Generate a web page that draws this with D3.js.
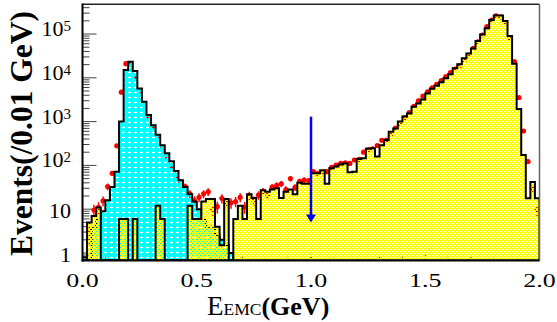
<!DOCTYPE html>
<html>
<head>
<meta charset="utf-8">
<script src="https://cdn.jsdelivr.net/npm/d3@7"></script>
<style>
  body { margin: 0; background: #fff; }
  svg { display: block; }
</style>
</head>
<body>
<svg id="chart"></svg>
<script>
// bins are 0.02 GeV wide, starting at 0
const binWidth = 0.02;

// cyan component (low energy peak), bins 0..33
const cyanCounts = [
  0.8, 0, 4, 6, 9, 16, 32, 72, 1000, 15000,
  23300, 14300, 5700, 2840, 1410, 830, 500, 290, 190, 125,
  75, 46, 32, 22, 15, 10, 6, 4, 4, 2.5,
  2, 1.5, 1, 0
];

// yellow component, bins 0..99
const yellowCounts = [
  0, 5, 7, 11, 0, 0, 0, 0, 6, 6,
  0, 6, 0, 0, 0, 0, 12, 6, 0, 0,
  0, 0, 0, 12, 6, 6, 15, 17, 17, 4,
  1.5, 17, 0, 6, 12, 6, 22, 18, 6, 27,
  25, 28, 30, 18, 25, 28, 22, 40, 38, 38,
  66, 66, 78, 38, 86, 95, 105, 110, 70, 72,
  140, 145, 240, 245, 160, 290, 380, 590, 700, 1000,
  1300, 1540, 2170, 2600, 3200, 4400, 5600, 6600, 7900, 9800,
  12000, 16500, 20300, 28000, 36000, 47000, 69000, 97000, 135000, 210000,
  263000, 263000, 198000, 90000, 21000, 1950, 172, 17.7, 42, 17.7
];

// data points, bins 0..99
const dataCounts = [
  0, 3.2, 9.6, 11, 15.6, 33, 66, 280, 4700, 21000,
  20800, 10600, 5000, 2400, 1300, 690, 420, 240, 140, 97,
  58, 41, 33, 22.5, 15.8, 18.7, 22.5, 25, 10, 11.4,
  17.7, 14, 14, 15, 18.7, 11.2, 20.5, 15.6, 21, 25.5,
  21, 31.8, 35, 38, 28, 50, 31.5, 43, 46, 45,
  72, 66, 69, 72, 90, 102, 111, 115, 111, 133,
  138, 200, 230, 240, 285, 375, 380, 530, 710, 915,
  1240, 1610, 2220, 2980, 3800, 4780, 5900, 7100, 8600, 10600,
  13100, 15800, 18800, 25300, 33000, 47000, 66000, 95000, 147000, 209000,
  260000, 245000, 178000, 80000, 23300, 3550, 610, 122, 30, 9.6
];

const xTicks = [0, 0.5, 1.0, 1.5, 2.0];
const xTickLabels = ['0.0', '0.5', '1.0', '1.5', '2.0'];
const yTicks = [1, 10, 100, 1000, 10000, 100000];
const yTickExp = [null, null, 2, 3, 4, 5];

const arrowX = 1.0;
const arrowTop = 1300;
const arrowBottom = 5;

const width = 557;
const height = 322;
const margin = { top: 4.3, right: 17.5, bottom: 61.5, left: 82.5 };
const yMin = 0.674, yMax = 4.77e5;
const serif = '"Liberation Serif", "DejaVu Serif", serif';

const x = d3.scaleLinear()
    .domain([0, 2])
    .range([margin.left, width - margin.right]);

const y = d3.scaleLog()
    .domain([yMin, yMax])
    .range([height - margin.bottom, margin.top]);

const svg = d3.select('#chart')
    .attr('width', width)
    .attr('height', height);

const defs = svg.append('defs');

defs.append('clipPath').attr('id', 'plot-clip')
    .append('rect')
    .attr('x', margin.left).attr('y', margin.top)
    .attr('width', width - margin.right - margin.left)
    .attr('height', height - margin.bottom - margin.top);

// cyan fill with little star-shaped holes
const cyanPat = defs.append('pattern').attr('id', 'cyan-fill')
    .attr('patternUnits', 'userSpaceOnUse')
    .attr('width', 6).attr('height', 5);
cyanPat.append('path')
    .attr('d', 'M0,0H6V5H0Z M3,1H4V2H5V3H4V4H3V3H2V2H3Z')
    .attr('fill', '#00ffff')
    .attr('fill-rule', 'evenodd');

// yellow fill with small staggered dash holes
const yellowPat = defs.append('pattern').attr('id', 'yellow-fill')
    .attr('patternUnits', 'userSpaceOnUse')
    .attr('width', 4).attr('height', 4);
yellowPat.append('path')
    .attr('d', 'M0,0H4V4H0Z M0,3H2V4H0Z M2,1H4V2H2Z')
    .attr('fill', '#ffff00')
    .attr('fill-rule', 'evenodd');

const bottomY = y.range()[0];
const yv = v => (v > yMin ? y(v) : bottomY);

function stairs(counts) {
    let p = `M${x(0)},${bottomY}`;
    counts.forEach((c, i) => {
        const x0 = x(i * binWidth), x1 = x((i + 1) * binWidth);
        p += `L${x0},${yv(c)}L${x1},${yv(c)}`;
    });
    p += `L${x(counts.length * binWidth)},${bottomY}`;
    return p;
}

// ticks (drawn first, the fills sit over them)
const yMinor = [];
for (let e = -1; e <= 5; e++) {
    for (let m = 2; m <= 9; m++) {
        const v = m * Math.pow(10, e);
        if (v > yMin && v < yMax) yMinor.push(v);
    }
}
const ticks = svg.append('g').attr('stroke', '#444').attr('stroke-width', 1);
ticks.selectAll('.ymaj').data(yTicks).enter().append('line')
    .attr('x1', margin.left).attr('x2', margin.left + 14)
    .attr('y1', d => y(d)).attr('y2', d => y(d));
ticks.selectAll('.ymin').data(yMinor).enter().append('line')
    .attr('x1', margin.left).attr('x2', margin.left + 7)
    .attr('y1', d => y(d)).attr('y2', d => y(d));
ticks.selectAll('.xmaj').data(xTicks).enter().append('line')
    .attr('x1', d => x(d)).attr('x2', d => x(d))
    .attr('y1', bottomY).attr('y2', bottomY - 7);
ticks.selectAll('.xmin').data(d3.range(0, 2.001, 0.1)).enter().append('line')
    .attr('x1', d => x(d)).attr('x2', d => x(d))
    .attr('y1', bottomY).attr('y2', bottomY - 3.5);

const plot = svg.append('g').attr('clip-path', 'url(#plot-clip)');

// data points under the histograms
const pts = dataCounts
    .map((c, i) => ({ c, xc: (i + 0.5) * binWidth }))
    .filter(d => d.c > 0);

plot.append('g').selectAll('line').data(pts).enter().append('line')
    .attr('x1', d => x(d.xc)).attr('x2', d => x(d.xc))
    .attr('y1', d => y(d.c + Math.sqrt(d.c)))
    .attr('y2', d => yv(d.c - Math.sqrt(d.c)))
    .attr('stroke', '#ff0000')
    .attr('stroke-width', 1.5);

plot.append('g').selectAll('circle').data(pts).enter().append('circle')
    .attr('cx', d => x(d.xc))
    .attr('cy', d => y(d.c))
    .attr('r', 2.6)
    .attr('fill', '#ff0000');

// cyan histogram
plot.append('path')
    .attr('d', stairs(cyanCounts) + 'Z')
    .attr('fill', 'url(#cyan-fill)')
    .attr('stroke', '#000')
    .attr('stroke-width', 2)
    .attr('stroke-linejoin', 'miter');

// yellow histogram
plot.append('path')
    .attr('d', stairs(yellowCounts) + 'Z')
    .attr('fill', 'url(#yellow-fill)')
    .attr('stroke', '#000')
    .attr('stroke-width', 2)
    .attr('stroke-linejoin', 'miter');

// arrow at the cut
const ax = x(arrowX);
svg.append('line')
    .attr('x1', ax).attr('x2', ax)
    .attr('y1', y(arrowTop)).attr('y2', y(arrowBottom) - 6)
    .attr('stroke', '#0000ff')
    .attr('stroke-width', 2.5);
svg.append('path')
    .attr('d', `M${ax - 5},${y(arrowBottom) - 8}L${ax + 5},${y(arrowBottom) - 8}L${ax},${y(arrowBottom)}Z`)
    .attr('fill', '#0000ff');

// frame
const x0 = margin.left, x1 = width - margin.right;
const y0 = margin.top, y1 = bottomY;
svg.append('line').attr('x1', x0).attr('x2', x1).attr('y1', y0).attr('y2', y0)
    .attr('stroke', '#222').attr('stroke-width', 1.5);
svg.append('line').attr('x1', x1).attr('x2', x1).attr('y1', y0).attr('y2', y1)
    .attr('stroke', '#666').attr('stroke-width', 1.5);
svg.append('line').attr('x1', x0).attr('x2', x0).attr('y1', y0 - 0.7).attr('y2', y1 + 1)
    .attr('stroke', '#000').attr('stroke-width', 2);
svg.append('line').attr('x1', x0 - 1).attr('x2', x1).attr('y1', y1).attr('y2', y1)
    .attr('stroke', '#000').attr('stroke-width', 2);

// y tick labels
const yLab = svg.append('g')
    .attr('font-family', serif)
    .attr('font-size', '22px')
    .attr('fill', '#000')
    .attr('text-anchor', 'end');
yTicks.forEach((t, i) => {
    const e = yTickExp[i];
    if (e === null) {
        yLab.append('text')
            .attr('x', 71).attr('y', y(t) + 9)
            .text(String(t));
    } else {
        const tx = yLab.append('text')
            .attr('x', 71).attr('y', y(t) + 2);
        tx.append('tspan').text('10');
        tx.append('tspan').attr('font-size', '15px').attr('dy', -5).text(String(e));
    }
});

// x tick labels
svg.append('g').selectAll('text').data(xTicks).enter().append('text')
    .attr('transform', d => `translate(${x(d)},287) scale(1.4,1)`)
    .attr('text-anchor', 'middle')
    .attr('font-family', serif)
    .attr('font-size', '18.5px')
    .attr('fill', '#000')
    .text((d, i) => xTickLabels[i]);

// x axis title
const xt = svg.append('text')
    .attr('x', 207).attr('y', 315)
    .attr('font-family', serif)
    .attr('fill', '#000');
xt.append('tspan').attr('font-size', '27px').text('E');
xt.append('tspan').attr('font-size', '17.5px').text('EMC');
xt.append('tspan').attr('font-size', '26px').attr('font-weight', 'bold').text('(GeV)');

// y axis title
svg.append('text')
    .attr('transform', 'translate(31.5,133.5) rotate(-90)')
    .attr('text-anchor', 'middle')
    .attr('font-family', serif)
    .attr('font-size', '31.5px')
    .attr('font-weight', 'bold')
    .attr('fill', '#000')
    .text('Events(/0.01 GeV)');
</script>
</body>
</html>
